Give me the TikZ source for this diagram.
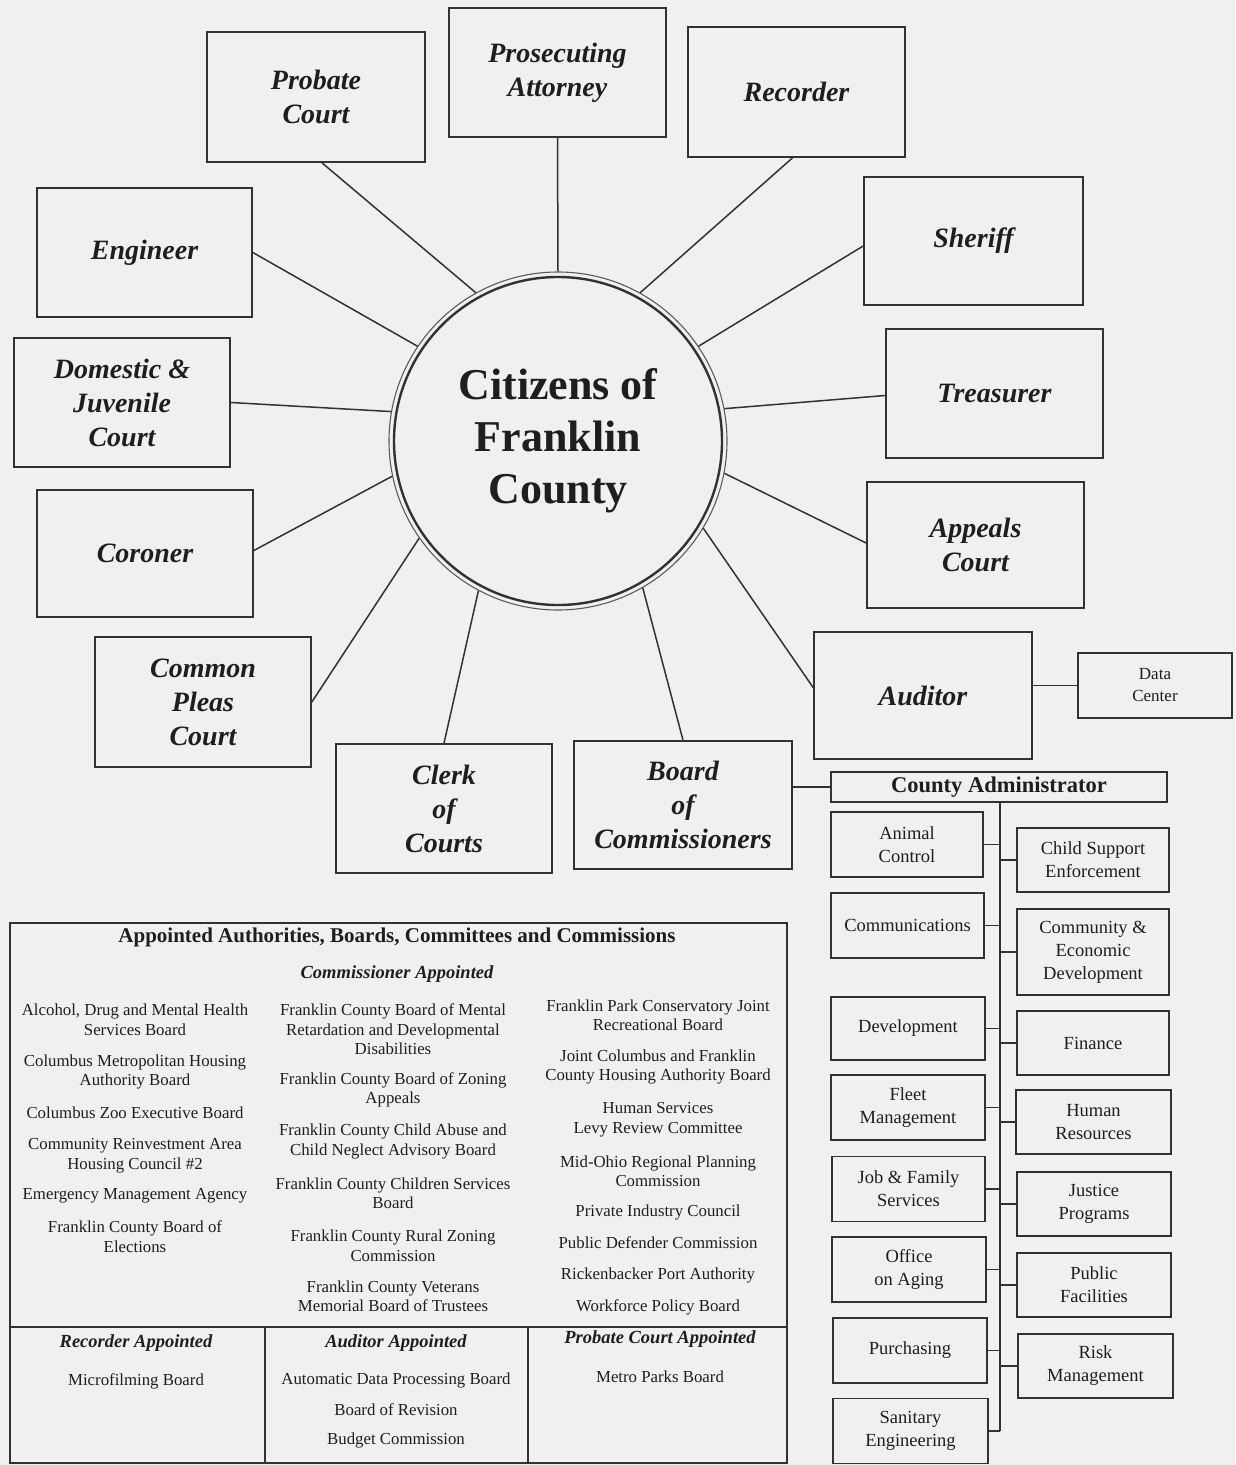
\documentclass[tikz,border=0pt]{standalone}
\usepackage{fontspec}
\setmainfont{Liberation Serif}
\usetikzlibrary{calc}
\definecolor{paper}{RGB}{240,240,242}
\definecolor{ink}{RGB}{30,30,30}
\definecolor{rulec}{RGB}{50,50,50}

\begin{document}
\begin{tikzpicture}[x=1pt,y=-1pt,
  office/.style={draw=rulec, line width=1.7pt, inner sep=0pt, align=center, text=ink,
    minimum width=217pt, minimum height=129pt,
    font=\fontsize{28}{34}\selectfont\bfseries\itshape},
  dept/.style={draw=rulec, line width=1.3pt, inner sep=0pt, align=center, text=ink,
    minimum width=153pt, minimum height=65pt, font=\fontsize{18.5}{23}\selectfont},
  spoke/.style={draw=rulec, line width=1.5pt},
  link/.style={draw=rulec, line width=1.3pt},
  entry/.style={inner sep=0pt, align=center, text=ink, font=\fontsize{16.8}{19.5}\selectfont},
  subhead/.style={inner sep=0pt, text=ink, font=\fontsize{18.5}{22}\selectfont\bfseries\itshape},
]
\fill[paper] (0,0) rectangle (1235,1465);
\useasboundingbox (0,0) rectangle (1235,1465);

% central circle
\node[circle, draw=rulec!80, line width=1.1pt, minimum size=338pt, inner sep=0pt, align=center,
      text=ink, font=\fontsize{44}{52}\selectfont\bfseries] (cit) at (558,441)
      {Citizens of\\Franklin\\County};
\draw[rulec, line width=2.4pt] (cit.center) circle[radius=164pt];

% elected offices
\node[office, minimum width=218pt, minimum height=130pt] (probate) at (316,97) {Probate\\Court};
\node[office] (prosec) at (557.5,72.5) {Prosecuting\\Attorney};
\node[office, minimum height=130pt] (recorder) at (796.5,92) {Recorder};
\node[office, minimum width=215pt] (engineer) at (144.5,252.5) {Engineer};
\node[office, minimum width=219pt, minimum height=128pt] (sheriff) at (973.5,241) {Sheriff};
\node[office, minimum width=216pt] (domestic) at (122,402.5) {Domestic \&\\Juvenile\\Court};
\node[office] (treasurer) at (994.5,393.5) {Treasurer};
\node[office, minimum width=216pt, minimum height=127pt] (coroner) at (145,553.5) {Coroner};
\node[office, minimum height=126pt] (appeals) at (975.5,545) {Appeals\\Court};
\node[office, minimum width=216pt, minimum height=130pt] (pleas) at (203,702) {Common\\Pleas\\Court};
\node[office, minimum width=218pt, minimum height=127pt] (auditor) at (923,695.5) {Auditor};
\node[office, minimum width=216pt] (clerk) at (444,808.5) {Clerk\\of\\Courts};
\node[office, minimum width=218pt, minimum height=128pt] (board) at (683,805) {Board\\of\\Commissioners};

% spokes to the citizens
\draw[spoke] ([xshift=6pt]probate.south) -- (cit.119);
\draw[spoke] (prosec.south) -- (cit.90);
\draw[spoke] ([xshift=-4pt]recorder.south) -- (cit.61);
\draw[spoke] ([yshift=-5pt]sheriff.west) -- (cit.34);
\draw[spoke] ([yshift=-2pt]treasurer.west) -- (cit.11);
\draw[spoke] ([yshift=2pt]appeals.west) -- (cit.-11);
\draw[spoke] ([yshift=8pt]auditor.west) -- (cit.-31);
\draw[spoke] (board.north) -- (cit.-60);
\draw[spoke] (clerk.north) -- (cit.-118);
\draw[spoke] (pleas.east) -- (cit.215);
\draw[spoke] ([yshift=3pt]coroner.east) -- (cit.192);
\draw[spoke] (domestic.east) -- (cit.170);
\draw[spoke] (engineer.east) -- (cit.146);

% auditor's data center
\node[dept, minimum width=154pt, font=\fontsize{17}{22}\selectfont] (datacenter) at (1155,685.5) {Data\\Center};
\draw[link] (datacenter.west) -- (datacenter.west -| auditor.east);

% county administrator and departments
\node[draw=rulec, line width=1.6pt, inner sep=0pt, minimum width=336pt, minimum height=30pt,
      text=ink, font=\fontsize{22.5}{26}\selectfont\bfseries] (ca) at (999,787) {County Administrator};
\draw[link] (ca.west) -- (ca.west -| board.east);

\node[dept, minimum width=152pt] (animal) at (907,844.5) {Animal\\Control};
\node[dept] (comms) at (907.5,925.5) {Communications};
\node[dept, minimum width=154pt, minimum height=63pt] (develop) at (908,1028.5) {Development};
\node[dept, minimum width=154pt] (fleet) at (908,1107.5) {Fleet\\Management};
\node[dept] (jobfam) at (908.5,1189) {Job \& Family\\Services};
\node[dept, minimum width=154pt] (aging) at (909,1269.5) {Office\\on Aging};
\node[dept, minimum width=154pt] (purch) at (910,1350.5) {Purchasing};
\node[dept, minimum width=155pt] (sanit) at (910.5,1431) {Sanitary\\Engineering};

\node[dept, minimum width=152pt, minimum height=64pt] (childsup) at (1093,860) {Child Support\\Enforcement};
\node[dept, minimum width=152pt, minimum height=86pt] (comecon) at (1093,952) {Community \&\\Economic\\Development};
\node[dept, minimum width=152pt, minimum height=64pt] (finance) at (1093,1043) {Finance};
\node[dept, minimum width=155pt, minimum height=64pt] (humres) at (1093.5,1122) {Human\\Resources};
\node[dept, minimum width=154pt, minimum height=64pt] (justice) at (1094,1204) {Justice\\Programs};
\node[dept, minimum width=154pt, minimum height=64pt] (pubfac) at (1094,1285) {Public\\Facilities};
\node[dept, minimum width=155pt, minimum height=64pt] (risk) at (1095.5,1366) {Risk\\Management};

\coordinate (trunktop) at (1000,802);
\coordinate (trunkbot) at (1000,1431);
\draw[link] (trunktop) -- (trunkbot);
\foreach \d in {animal,comms,develop,fleet,jobfam,aging,purch,sanit}
  \draw[link] (\d.east) -- (\d.east -| trunktop);
\foreach \d in {childsup,comecon,finance,humres,justice,pubfac,risk}
  \draw[link] (trunktop |- \d.west) -- (\d.west);

% appointed bodies table
\node[draw=rulec, line width=1.5pt, inner sep=0pt, minimum width=777pt, minimum height=540pt] (appt) at (398.5,1193) {};
\coordinate (rowsplit) at (0,1327);
\coordinate (colA) at (265,0);
\coordinate (colB) at (528,0);
\draw[link, line width=1.6pt] (appt.west |- rowsplit) -- (appt.east |- rowsplit);
\draw[link] (colA |- rowsplit) -- (colA |- appt.south);
\draw[link] (colB |- rowsplit) -- (colB |- appt.south);

\node[inner sep=0pt, text=ink, font=\fontsize{21}{24}\selectfont\bfseries] (appttitle) at (397,937)
  {Appointed Authorities, Boards, Committees and Commissions};
\node[subhead] (commhead) at (397,974) {Commissioner Appointed};

% first column
\node[entry] (a1) at (135,1019.5) {Alcohol, Drug and Mental Health\\Services Board};
\node[entry] (a2) at (135,1072) {Columbus Metropolitan Housing\\Authority Board};
\node[entry] (a3) at (135,1113) {Columbus Zoo Executive Board};
\node[entry] (a4) at (135,1155.5) {Community Reinvestment Area\\Housing Council \#2};
\node[entry] (a5) at (135,1196) {Emergency Management Agency};
\node[entry] (a6) at (135,1236.5) {Franklin County Board of\\Elections};

% second column
\node[entry] (b1) at (393,1029.5) {Franklin County Board of Mental\\Retardation and Developmental\\Disabilities};
\node[entry] (b2) at (393,1090) {Franklin County Board of Zoning\\Appeals};
\node[entry] (b3) at (393,1141.5) {Franklin County Child Abuse and\\Child Neglect Advisory Board};
\node[entry] (b4) at (393,1193) {Franklin County Children Services\\Board};
\node[entry] (b5) at (393,1245.5) {Franklin County Rural Zoning\\Commission};
\node[entry] (b6) at (393,1296) {Franklin County Veterans\\Memorial Board of Trustees};

% third column
\node[entry] (c1) at (658,1015) {Franklin Park Conservatory Joint\\Recreational Board};
\node[entry] (c2) at (658,1067) {Joint Columbus and Franklin\\County Housing Authority Board};
\node[entry] (c3) at (658,1119.5) {Human Services\\Levy Review Committee};
\node[entry] (c4) at (658,1171) {Mid-Ohio Regional Planning\\Commission};
\node[entry] (c5) at (658,1212) {Private Industry Council};
\node[entry] (c6) at (658,1243) {Public Defender Commission};
\node[entry] (c7) at (658,1275) {Rickenbacker Port Authority};
\node[entry] (c8) at (658,1307) {Workforce Policy Board};

% bottom row
\node[subhead] (rechead) at (136,1343) {Recorder Appointed};
\node[entry] (r1) at (136,1381) {Microfilming Board};
\node[subhead] (audhead) at (396,1343) {Auditor Appointed};
\node[entry] (d1) at (396,1380) {Automatic Data Processing Board};
\node[entry] (d2) at (396,1410) {Board of Revision};
\node[entry] (d3) at (396,1440) {Budget Commission};
\node[subhead] (probhead) at (660,1339) {Probate Court Appointed};
\node[entry] (p1) at (660,1377) {Metro Parks Board};
\end{tikzpicture}
\end{document}
